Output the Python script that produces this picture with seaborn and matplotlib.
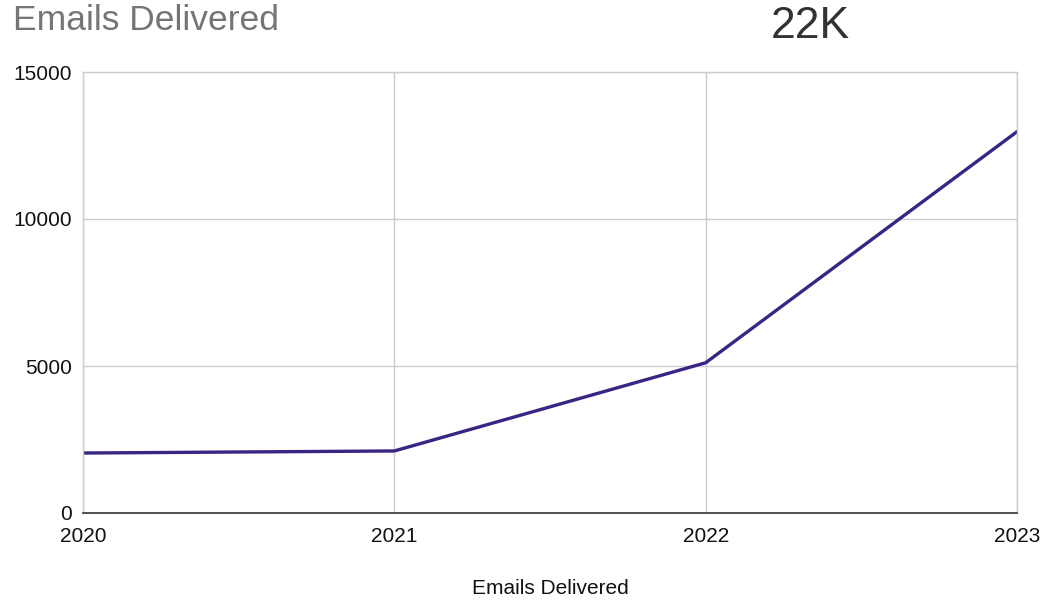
import matplotlib
matplotlib.use("Agg")
import matplotlib.pyplot as plt
import seaborn as sns
import pandas as pd

years = [2020, 2021, 2022, 2023]
emails = [2040, 2110, 5110, 12970]
y_ticks = [0, 5000, 10000, 15000]
title = "Emails Delivered"
kpi = "22K"
x_label = "Emails Delivered"

sns.set_style("white")
plt.rcParams['font.family'] = ['Liberation Sans', 'DejaVu Sans']

df = pd.DataFrame({"year": years, "emails": emails})

fig = plt.figure(figsize=(10.43, 6.01), dpi=100)
ax = fig.add_axes([83/1043, 1-513/601, (1017-83)/1043, (513-72)/601])

sns.lineplot(data=df, x="year", y="emails", ax=ax, color="#3a2585", linewidth=2.4)

ax.set_xlim(2020, 2023)
ax.set_ylim(0, 15000)
ax.set_xticks(years)
ax.set_xticklabels([str(y) for y in years])
ax.set_yticks(y_ticks)
ax.set_yticklabels([str(v) for v in y_ticks])
ax.tick_params(axis='both', labelsize=15, colors='#111111', length=0, pad=8)
ax.tick_params(axis='x', pad=10)
ax.grid(True, color='#cccccc', linewidth=1)
ax.set_axisbelow(True)
for side in ['top', 'right', 'left']:
    ax.spines[side].set_color('#cccccc')
    ax.spines[side].set_linewidth(1)
ax.spines['bottom'].set_color('#333333')
ax.spines['bottom'].set_linewidth(1.2)
ax.set_ylabel("")
ax.set_xlabel(x_label, fontsize=15, color='#111111')
ax.xaxis.set_label_coords(0.5, -(579 - 513) / 441)

fig.text(13/1043, 1-21/601, title, fontsize=25.5, color='#757575', ha='left', va='center')
fig.text(810/1043, 1-27/601, kpi, fontsize=32, color='#333333', ha='center', va='center')

fig.savefig("out.png", dpi=100)
